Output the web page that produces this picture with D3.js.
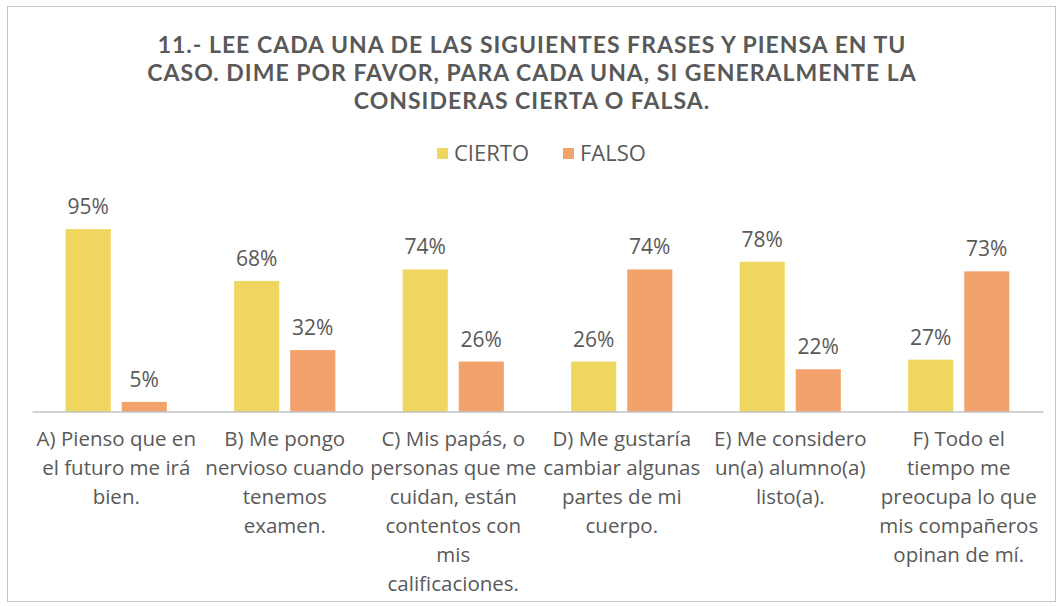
<!DOCTYPE html>
<html>
<head>
<meta charset="utf-8">
<script src="https://cdn.jsdelivr.net/npm/d3@7"></script>
<style>
  body { margin: 0; background: #fff; }
  text { font-family: "Open Sans", sans-serif; fill: #595959; }
</style>
</head>
<body>
<script>
// chart values
const titleLines = [
  "11.- LEE CADA UNA DE LAS SIGUIENTES FRASES Y PIENSA EN TU",
  "CASO. DIME POR FAVOR, PARA CADA UNA, SI GENERALMENTE LA",
  "CONSIDERAS CIERTA O FALSA."
];
const categories = ["A", "B", "C", "D", "E", "F"];
const categoryLabels = [
  ["A) Pienso que en", "el futuro me irá", "bien."],
  ["B) Me pongo", "nervioso cuando", "tenemos", "examen."],
  ["C) Mis papás, o", "personas que me", "cuidan, están", "contentos con", "mis", "calificaciones."],
  ["D) Me gustaría", "cambiar algunas", "partes de mi", "cuerpo."],
  ["E) Me considero", "un(a) alumno(a)", "listo(a)."],
  ["F) Todo el", "tiempo me", "preocupa lo que", "mis compañeros", "opinan de mí."]
];
const seriesNames = ["CIERTO", "FALSO"];
const cierto = [0.95, 0.68, 0.74, 0.26, 0.78, 0.27];
const falso = [0.05, 0.32, 0.26, 0.74, 0.22, 0.73];
const colors = ["#EFD660", "#F2A36C"];

const width = 1060, height = 606;
const plot = {left: 32, right: 1043, top: 219.5, bottom: 411.5};

const data = categories.map((c, i) => ({cat: c, values: [cierto[i], falso[i]]}));

const svg = d3.select("body")
  .append("svg")
  .attr("width", width)
  .attr("height", height);

svg.append("rect")
  .attr("width", width).attr("height", height)
  .attr("fill", "#fff");

// thin frame around the chart
svg.append("rect")
  .attr("x", 7.5).attr("y", 6.5)
  .attr("width", 1048).attr("height", 595)
  .attr("fill", "none")
  .attr("stroke", "#c4c4c4");

// title (Lato has a tighter line box, so the three lines don't collide)
svg.append("g")
  .selectAll("text")
  .data(titleLines)
  .enter().append("text")
  .attr("x", 532)
  .attr("y", (d, i) => 53 + i * 28)
  .attr("text-anchor", "middle")
  .style("font-family", "Lato, sans-serif")
  .style("font-size", "23px")
  .style("font-weight", "bold")
  .style("letter-spacing", "1px")
  .text(d => d);

// legend
const legendX = [437, 563];
const legend = svg.append("g")
  .selectAll("g")
  .data(seriesNames)
  .enter().append("g")
  .attr("transform", (d, i) => "translate(" + legendX[i] + ",148)");
legend.append("rect")
  .attr("width", 11).attr("height", 11)
  .attr("fill", (d, i) => colors[i]);
legend.append("text")
  .attr("x", 17).attr("y", 13)
  .style("font-size", "22px")
  .text(d => d);

// scales
const x0 = d3.scaleBand()
  .domain(categories)
  .range([plot.left, plot.right]);

const x1 = d3.scaleBand()
  .domain([0, 1])
  .range([0, x0.bandwidth()])
  .paddingInner(0.196)
  .paddingOuter(0.6);

const y = d3.scaleLinear()
  .domain([0, 1])
  .range([plot.bottom, plot.top]);

// bars
const groups = svg.append("g")
  .selectAll("g")
  .data(data)
  .enter().append("g")
  .attr("transform", d => "translate(" + x0(d.cat) + ",0)");

groups.selectAll("rect")
  .data(d => d.values)
  .enter().append("rect")
  .attr("x", (d, i) => x1(i))
  .attr("y", d => y(d))
  .attr("width", x1.bandwidth())
  .attr("height", d => y(0) - y(d))
  .attr("fill", (d, i) => colors[i]);

groups.selectAll("text")
  .data(d => d.values)
  .enter().append("text")
  .attr("x", (d, i) => x1(i) + x1.bandwidth() / 2)
  .attr("y", d => y(d) - 15)
  .attr("text-anchor", "middle")
  .style("font-size", "21px")
  .text(d => d3.format(".0%")(d));

// category axis
const xAxis = svg.append("g")
  .attr("transform", "translate(0," + plot.bottom + ")")
  .call(d3.axisBottom(x0).tickSize(0).tickFormat(""));
xAxis.select(".domain").attr("stroke", "#a2a5ab").attr("stroke-width", 1.2);

xAxis.selectAll(".tick text").remove();
xAxis.selectAll(".tick")
  .append("text")
  .attr("text-anchor", "middle")
  .style("font-size", "20.5px")
  .selectAll("tspan")
  .data((d, i) => categoryLabels[i])
  .enter().append("tspan")
  .attr("x", 0)
  .attr("y", (d, i) => 34 + i * 29)
  .text(d => d);
</script>
</body>
</html>
